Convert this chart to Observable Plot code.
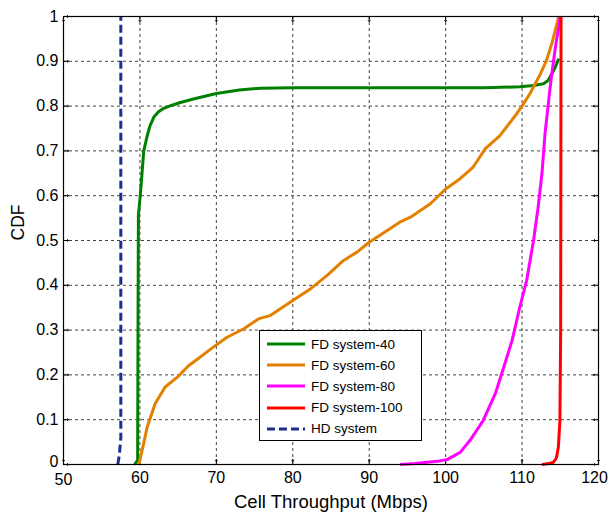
<!DOCTYPE html>
<html>
<head>
<meta charset="utf-8">
<script src="https://cdn.jsdelivr.net/npm/d3@7"></script>
<script src="https://cdn.jsdelivr.net/npm/@observablehq/plot@0.6"></script>
<style>
  html, body { margin: 0; padding: 0; background: #fff; }
  #wrap { position: relative; width: 610px; height: 517px; font-family: "Liberation Sans", Arial, sans-serif; }
  #legend { position: absolute; left: 259px; top: 330px; width: 161px; height: 109px; background: #fff; border: 1px solid #000; }
  .row { position: absolute; left: 0; height: 20px; display: flex; align-items: center; font-size: 13.5px; color: #000; }
  .row svg { margin-left: 7px; margin-right: 6px; }
</style>
</head>
<body>
<div id="wrap"></div>
<script>
// ---- data ----
const xTicks = [50, 60, 70, 80, 90, 100, 110, 120];
const yTicks = [0, 0.1, 0.2, 0.3, 0.4, 0.5, 0.6, 0.7, 0.8, 0.9, 1];

const seriesNames = ["FD system-40", "FD system-60", "FD system-80", "FD system-100", "HD system"];
const seriesColors = ["#008000", "#e28000", "#ff00ff", "#ff0000", "#1c2f8f"];

const fd40X = [59.3, 59.7, 59.75, 59.8, 60.07, 60.5, 60.9, 61.3, 61.8, 62.4, 63.1, 64.2, 65.3, 67, 70, 73, 75.8, 80, 90, 100, 105, 109.7, 111.5, 112.8, 113.4, 113.9, 114.3, 114.8];
const fd40Y = [0, 0.01, 0.3, 0.556, 0.605, 0.70, 0.73, 0.755, 0.775, 0.787, 0.795, 0.802, 0.808, 0.816, 0.828, 0.836, 0.840, 0.841, 0.841, 0.841, 0.841, 0.843, 0.846, 0.85, 0.857, 0.872, 0.885, 0.906];

const fd60X = [59.85, 60.4, 60.94, 61.4, 62.0, 63.3, 64.9, 66.4, 67.9, 69.6, 71.4, 73.6, 75.5, 77.1, 80, 82.3, 84.5, 86.6, 88.4, 90, 92.3, 94.0, 95.4, 98.0, 100, 101.9, 103.6, 105.2, 107.1, 109.3, 110, 111.0, 112.4, 113.2, 113.9, 114.8];
const fd60Y = [0, 0.04, 0.083, 0.106, 0.136, 0.173, 0.195, 0.221, 0.24, 0.262, 0.284, 0.303, 0.325, 0.333, 0.366, 0.392, 0.422, 0.455, 0.474, 0.496, 0.522, 0.541, 0.552, 0.582, 0.615, 0.638, 0.664, 0.705, 0.734, 0.783, 0.80, 0.827, 0.872, 0.902, 0.94, 1.0];

const fd80X = [94.05, 96, 98.9, 100.2, 101.9, 103.2, 104.9, 106.5, 107.6, 108.7, 109.7, 110.6, 111.5, 112.1, 112.6, 113.0, 113.4, 113.8, 114.3, 115.0];
const fd80Y = [0, 0.002, 0.007, 0.011, 0.027, 0.054, 0.098, 0.158, 0.217, 0.277, 0.351, 0.411, 0.5, 0.574, 0.649, 0.738, 0.80, 0.86, 0.924, 1.0];

const fd100X = [112.6, 113.5, 114.1, 114.5, 114.75, 114.95, 115.05, 115.1];
const fd100Y = [0, 0.002, 0.005, 0.015, 0.039, 0.098, 0.3, 1.0];

const hdX = [57.1, 57.3, 57.5, 57.5];
const hdY = [0, 0.02, 0.06, 1.0];

// ---- build table ----
const seriesXY = [[fd40X, fd40Y], [fd60X, fd60Y], [fd80X, fd80Y], [fd100X, fd100Y], [hdX, hdY]];
const rows = [];
seriesXY.forEach(([xs, ys], i) => xs.forEach((x, j) => rows.push({series: seriesNames[i], x, y: ys[j]})));
const bySeries = name => rows.filter(r => r.series === name);

const fontFamily = '"Liberation Sans", Arial, sans-serif';
const gridStyle = {stroke: "#222", strokeOpacity: 0.85, strokeWidth: 1, strokeDasharray: "3,3"};
const xFirst = xTicks[0], xLast = xTicks[xTicks.length - 1];
const yFirst = yTicks[0];
const axisXOpts = {tickSize: 0, tickPadding: 7, tickFormat: d => String(d), label: null, fontSize: 16};
const axisYOpts = {tickSize: 0, tickPadding: 5, tickFormat: d => String(d), label: null, fontSize: 16};

const chart = Plot.plot({
  width: 610,
  height: 517,
  marginLeft: 63,
  marginRight: 12,
  marginTop: 16,
  marginBottom: 53,
  style: {fontFamily, fontSize: "16px", background: "#fff", color: "#000"},
  x: {domain: [50, 120]},
  y: {domain: [0, 1]},
  marks: [
    Plot.gridX(xTicks.slice(1, -1), gridStyle),
    Plot.gridY(yTicks.slice(1, -1), gridStyle),
    Plot.axisX({...axisXOpts, ticks: xTicks.slice(1, -1)}),
    Plot.axisX({...axisXOpts, ticks: [xFirst], dy: 2}),
    Plot.axisX({...axisXOpts, ticks: [xLast], dx: -4}),
    Plot.axisY({...axisYOpts, ticks: yTicks.slice(1)}),
    Plot.axisY({...axisYOpts, ticks: [yFirst], dy: -3}),
    // inward ticks on all four sides
    Plot.vector(xTicks, {x: d => d, frameAnchor: "bottom", rotate: 0, length: 5, anchor: "start", stroke: "#000", strokeWidth: 1}),
    Plot.vector(xTicks, {x: d => d, frameAnchor: "top", rotate: 180, length: 5, anchor: "start", stroke: "#000", strokeWidth: 1}),
    Plot.vector(yTicks, {y: d => d, frameAnchor: "left", rotate: 90, length: 5, anchor: "start", stroke: "#000", strokeWidth: 1}),
    Plot.vector(yTicks, {y: d => d, frameAnchor: "right", rotate: 270, length: 5, anchor: "start", stroke: "#000", strokeWidth: 1}),
    // curves
    ...seriesNames.map((name, i) => Plot.line(bySeries(name), {
      x: "x", y: "y", stroke: seriesColors[i], strokeWidth: 3,
      strokeDasharray: name === "HD system" ? "8,4" : null,
      strokeLinejoin: "round", strokeLinecap: "butt"
    })),
    Plot.frame({stroke: "#000", strokeWidth: 1.2}),
    // axis titles
    Plot.text(["Cell Throughput (Mbps)"], {frameAnchor: "bottom", dy: 43, fontSize: 18.5, fill: "#000"}),
    Plot.text(["CDF"], {frameAnchor: "left", dx: -45, rotate: -90, fontSize: 17.5, fill: "#000"})
  ]
});

const wrap = document.getElementById("wrap");
wrap.appendChild(chart);

// legend overlay
const legend = document.createElement("div");
legend.id = "legend";
seriesNames.forEach((name, i) => {
  const row = document.createElement("div");
  row.className = "row";
  row.style.top = (3 + i * 21.2) + "px";
  const dash = name === "HD system" ? 'stroke-dasharray="8,4"' : "";
  row.innerHTML = `<svg width="38" height="6"><line x1="0" y1="3" x2="38" y2="3" stroke="${seriesColors[i]}" stroke-width="3" ${dash}/></svg><span>${name}</span>`;
  legend.appendChild(row);
});
wrap.appendChild(legend);
</script>
</body>
</html>
